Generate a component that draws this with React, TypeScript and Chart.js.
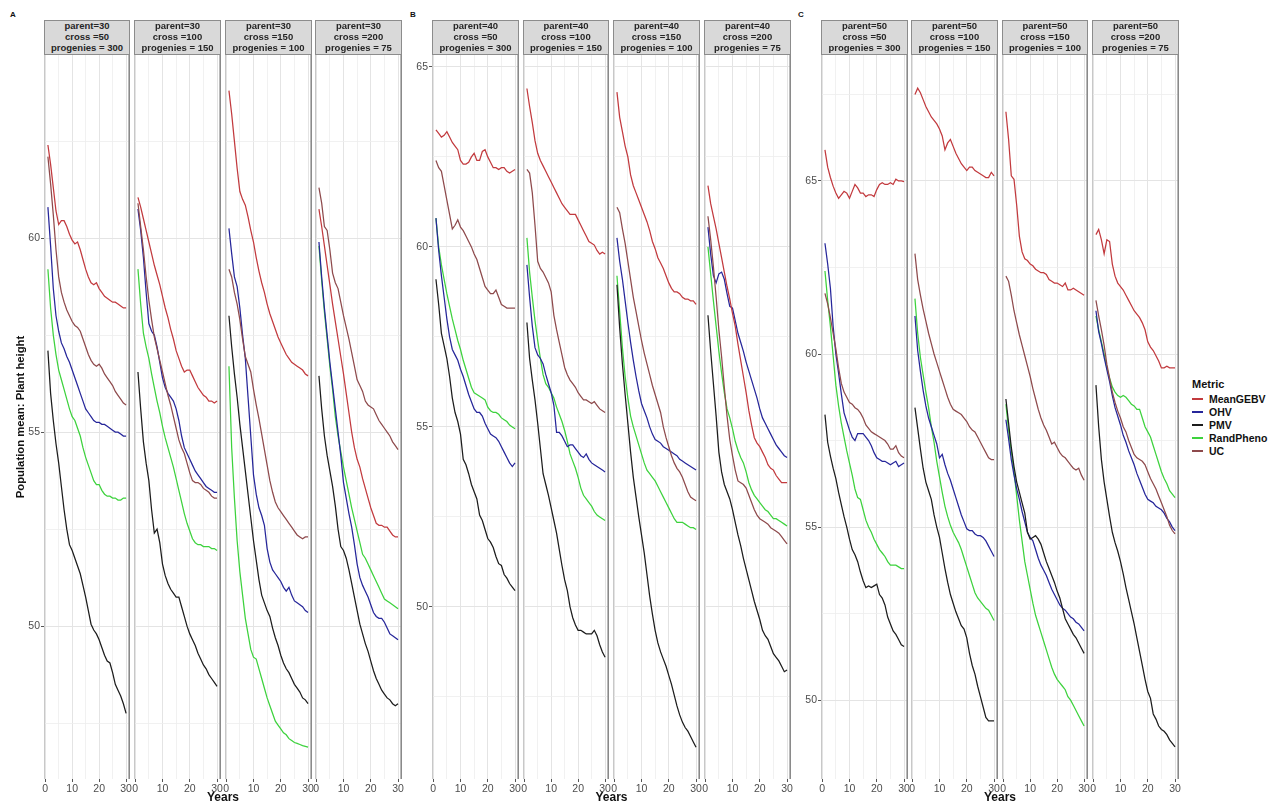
import React, { useEffect, useRef } from "react";
import { Chart, registerables } from "chart.js";

Chart.register(...registerables);

// ---------------- data ----------------
const years = [1, 2, 3, 4, 5, 6, 7, 8, 9, 10, 11, 12, 13, 14, 15, 16, 17, 18, 19, 20, 21, 22, 23, 24, 25, 26, 27, 28, 29, 30];
const metrics = ["MeanGEBV", "OHV", "PMV", "RandPheno", "UC"];
const groupLetters = ["A", "B", "C"];
const parentLevels = [30, 40, 50];
const crossLevels = [50, 100, 150, 200];
const progenyLevels = [300, 150, 100, 75];
const xTickValues = [0, 5, 10, 15, 20, 25, 30];
const yTickValues = [47.5, 50, 52.5, 55, 57.5, 60, 62.5, 65, 67.5];

// Group A (parent = 30)
const A1_MeanGEBV = [62.4, 61.9, 61.3, 60.7, 60.35, 60.45, 60.45, 60.3, 60.1, 59.95, 59.85, 59.9, 59.7, 59.45, 59.2, 59.0, 58.85, 58.8, 58.85, 58.7, 58.6, 58.5, 58.45, 58.4, 58.35, 58.35, 58.3, 58.25, 58.2, 58.2];
const A1_OHV = [60.8, 59.8, 58.7, 58.0, 57.6, 57.3, 57.15, 56.95, 56.8, 56.6, 56.4, 56.2, 56.0, 55.8, 55.6, 55.5, 55.4, 55.3, 55.25, 55.25, 55.2, 55.2, 55.15, 55.1, 55.05, 55.0, 55.0, 54.95, 54.9, 54.9];
const A1_PMV = [57.1, 56.0, 55.3, 54.7, 54.2, 53.6, 53.0, 52.5, 52.1, 51.95, 51.75, 51.55, 51.35, 51.05, 50.75, 50.4, 50.05, 49.9, 49.8, 49.65, 49.45, 49.25, 49.1, 49.05, 48.8, 48.5, 48.35, 48.2, 48.0, 47.75];
const A1_RandPheno = [59.2, 58.2, 57.5, 57.0, 56.6, 56.35, 56.1, 55.85, 55.6, 55.4, 55.3, 55.1, 54.9, 54.6, 54.35, 54.15, 53.95, 53.75, 53.65, 53.65, 53.5, 53.4, 53.35, 53.35, 53.3, 53.3, 53.25, 53.25, 53.3, 53.3];
const A1_UC = [62.1, 61.4, 60.6, 59.7, 59.0, 58.6, 58.35, 58.15, 58.0, 57.85, 57.75, 57.7, 57.6, 57.4, 57.2, 57.0, 56.85, 56.75, 56.7, 56.75, 56.65, 56.5, 56.4, 56.3, 56.2, 56.05, 55.95, 55.85, 55.75, 55.7];

const A2_MeanGEBV = [61.05, 60.8, 60.5, 60.2, 59.9, 59.6, 59.3, 59.05, 58.8, 58.5, 58.2, 57.95, 57.65, 57.4, 57.1, 56.9, 56.7, 56.55, 56.6, 56.6, 56.45, 56.3, 56.15, 56.05, 55.95, 55.9, 55.8, 55.8, 55.75, 55.8];
const A2_OHV = [60.75, 60.2, 59.5, 58.6, 57.8, 57.6, 57.5, 57.2, 56.8, 56.4, 56.15, 56.0, 55.9, 55.8, 55.6, 55.3, 54.9, 54.6, 54.45, 54.3, 54.15, 54.0, 53.9, 53.8, 53.7, 53.6, 53.55, 53.5, 53.45, 53.45];
const A2_PMV = [56.55, 55.6, 54.75, 54.2, 53.75, 53.0, 52.4, 52.5, 52.15, 51.6, 51.3, 51.1, 50.95, 50.85, 50.75, 50.75, 50.5, 50.25, 50.0, 49.8, 49.65, 49.5, 49.3, 49.15, 49.0, 48.9, 48.75, 48.65, 48.55, 48.45];
const A2_RandPheno = [59.2, 58.3, 57.55, 57.2, 56.9, 56.5, 56.15, 55.8, 55.5, 55.15, 54.85, 54.6, 54.35, 54.1, 53.8, 53.5, 53.2, 52.9, 52.65, 52.45, 52.25, 52.15, 52.1, 52.1, 52.05, 52.05, 52.05, 52.0, 52.0, 51.95];
const A2_UC = [60.9, 60.3, 59.7, 59.0, 58.4, 57.9, 57.45, 57.15, 56.85, 56.55, 56.25, 55.95, 55.7, 55.4, 55.1, 54.8, 54.6, 54.45, 54.2, 53.95, 53.75, 53.7, 53.7, 53.65, 53.55, 53.5, 53.45, 53.35, 53.3, 53.3];

const A3_MeanGEBV = [63.8, 63.2, 62.5, 61.8, 61.2, 61.0, 60.85, 60.55, 60.2, 59.9, 59.5, 59.15, 58.85, 58.6, 58.3, 58.05, 57.85, 57.65, 57.45, 57.3, 57.15, 57.0, 56.9, 56.8, 56.75, 56.7, 56.65, 56.6, 56.5, 56.45];
const A3_OHV = [60.25, 59.6, 59.0, 58.75, 58.2, 57.5, 56.9, 55.9, 54.9, 53.9, 53.4, 53.05, 52.85, 52.6, 52.0, 51.65, 51.45, 51.35, 51.25, 51.15, 51.0, 50.9, 51.0, 50.8, 50.65, 50.6, 50.55, 50.5, 50.4, 50.35];
const A3_PMV = [58.0, 57.2, 56.5, 55.9, 55.2, 54.6, 54.0, 53.4, 52.8, 52.2, 51.7, 51.2, 50.8, 50.6, 50.4, 50.25, 49.95, 49.7, 49.5, 49.25, 49.05, 48.9, 48.8, 48.65, 48.5, 48.4, 48.3, 48.15, 48.1, 48.0];
const A3_RandPheno = [56.7, 54.6, 53.3, 52.2, 51.4, 50.8, 50.2, 49.8, 49.4, 49.2, 49.15, 48.9, 48.65, 48.4, 48.15, 47.95, 47.75, 47.55, 47.45, 47.35, 47.25, 47.2, 47.1, 47.05, 47.0, 46.98, 46.95, 46.92, 46.9, 46.88];
const A3_UC = [59.2, 59.0, 58.6, 58.3, 57.9, 57.4, 56.95, 56.75, 56.55, 56.1, 55.7, 55.35, 54.95, 54.55, 54.15, 53.75, 53.45, 53.2, 53.05, 52.95, 52.85, 52.75, 52.65, 52.55, 52.45, 52.35, 52.3, 52.25, 52.3, 52.3];

const A4_MeanGEBV = [60.75, 60.3, 59.8, 59.3, 58.8, 58.3, 57.85, 57.4, 56.95, 56.5, 56.0, 55.5, 55.0, 54.6, 54.3, 54.1, 53.8, 53.55, 53.3, 53.05, 52.85, 52.65, 52.6, 52.6, 52.55, 52.55, 52.45, 52.35, 52.3, 52.3];
const A4_OHV = [59.9, 59.0, 58.2, 57.5, 56.8, 56.2, 55.6, 55.0, 54.4, 53.7, 53.3, 52.9, 52.55, 52.1, 51.6, 51.25, 51.05, 50.9, 50.75, 50.55, 50.35, 50.25, 50.2, 50.2, 50.1, 49.95, 49.8, 49.75, 49.7, 49.65];
const A4_PMV = [56.45, 55.6, 54.9, 54.4, 54.0, 53.6, 53.1, 52.5, 52.05, 51.95, 51.75, 51.45, 51.1, 50.75, 50.4, 50.05, 49.8, 49.55, 49.35, 49.1, 48.85, 48.65, 48.5, 48.35, 48.25, 48.15, 48.1, 48.0, 47.95, 48.0];
const A4_RandPheno = [59.8, 58.9, 58.1, 57.4, 56.7, 56.1, 55.4, 54.9, 54.5, 54.1, 53.75, 53.4, 53.05, 52.75, 52.45, 52.15, 51.85, 51.75, 51.6, 51.45, 51.3, 51.15, 51.0, 50.85, 50.7, 50.65, 50.6, 50.55, 50.5, 50.45];
const A4_UC = [61.3, 60.9, 60.3, 60.2, 59.7, 59.1, 58.85, 58.7, 58.35, 58.0, 57.7, 57.4, 57.05, 56.7, 56.35, 56.2, 56.05, 55.8, 55.7, 55.65, 55.6, 55.45, 55.3, 55.2, 55.1, 55.0, 54.9, 54.75, 54.65, 54.55];

// Group B (parent = 40)
const B1_MeanGEBV = [63.25, 63.15, 63.05, 63.1, 63.2, 63.05, 62.9, 62.8, 62.7, 62.4, 62.3, 62.3, 62.35, 62.5, 62.6, 62.4, 62.4, 62.65, 62.7, 62.5, 62.35, 62.2, 62.2, 62.15, 62.2, 62.2, 62.1, 62.05, 62.1, 62.15];
const B1_OHV = [60.8, 59.9, 59.2, 58.6, 58.0, 57.5, 57.15, 57.0, 56.85, 56.6, 56.4, 56.15, 55.9, 55.7, 55.5, 55.4, 55.4, 55.3, 55.1, 54.95, 54.8, 54.75, 54.7, 54.6, 54.45, 54.3, 54.15, 54.0, 53.9, 54.0];
const B1_PMV = [59.1, 58.4, 57.6, 57.25, 56.9, 56.4, 55.8, 55.4, 55.15, 54.8, 54.1, 53.95, 53.7, 53.4, 53.2, 53.0, 52.55, 52.4, 52.15, 51.9, 51.8, 51.65, 51.4, 51.2, 51.15, 50.9, 50.8, 50.65, 50.55, 50.45];
const B1_RandPheno = [60.8, 60.0, 59.5, 59.1, 58.7, 58.35, 58.0, 57.7, 57.4, 57.15, 56.85, 56.6, 56.35, 56.1, 55.95, 55.9, 55.85, 55.8, 55.75, 55.55, 55.45, 55.4, 55.4, 55.35, 55.25, 55.2, 55.15, 55.05, 55.0, 54.95];
const B1_UC = [62.4, 62.2, 62.1, 61.7, 61.3, 60.9, 60.5, 60.6, 60.75, 60.55, 60.45, 60.3, 60.15, 60.0, 59.8, 59.65, 59.4, 59.15, 58.9, 58.8, 58.7, 58.7, 58.8, 58.6, 58.4, 58.35, 58.3, 58.3, 58.3, 58.3];

const B2_MeanGEBV = [64.4, 63.9, 63.45, 62.95, 62.6, 62.4, 62.25, 62.1, 61.95, 61.8, 61.65, 61.5, 61.35, 61.2, 61.1, 61.0, 60.9, 60.9, 60.9, 60.75, 60.6, 60.45, 60.3, 60.15, 60.1, 60.05, 59.9, 59.8, 59.85, 59.8];
const B2_OHV = [59.5, 58.6, 57.8, 57.2, 57.0, 56.9, 56.75, 56.45, 56.2, 55.95, 55.6, 54.85, 54.85, 54.75, 54.6, 54.45, 54.5, 54.5, 54.4, 54.3, 54.2, 54.15, 54.25, 54.1, 54.0, 53.95, 53.9, 53.85, 53.8, 53.75];
const B2_PMV = [57.9, 56.9, 56.3, 55.75, 55.1, 54.4, 53.7, 53.4, 53.1, 52.75, 52.4, 52.05, 51.6, 51.15, 50.75, 50.45, 50.0, 49.7, 49.5, 49.35, 49.35, 49.3, 49.25, 49.25, 49.25, 49.35, 49.2, 48.95, 48.75, 48.6];
const B2_RandPheno = [60.25, 59.3, 58.6, 57.95, 57.4, 56.9, 56.45, 56.2, 56.1, 55.95, 55.8, 55.55, 55.35, 55.15, 54.9, 54.6, 54.25, 54.05, 53.85, 53.6, 53.3, 53.1, 53.0, 52.9, 52.8, 52.65, 52.55, 52.5, 52.45, 52.4];
const B2_UC = [62.15, 62.05, 61.5, 60.6, 59.6, 59.4, 59.3, 59.15, 59.0, 58.75, 58.1, 57.7, 57.35, 57.0, 56.65, 56.45, 56.3, 56.2, 56.1, 55.95, 55.85, 55.75, 55.75, 55.7, 55.65, 55.7, 55.6, 55.5, 55.45, 55.4];

const B3_MeanGEBV = [64.3, 63.6, 63.2, 62.8, 62.5, 62.0, 61.7, 61.5, 61.3, 61.1, 60.9, 60.7, 60.45, 60.15, 59.95, 59.7, 59.55, 59.4, 59.2, 59.0, 58.85, 58.75, 58.75, 58.7, 58.6, 58.55, 58.55, 58.5, 58.5, 58.4];
const B3_OHV = [60.25, 59.6, 59.1, 58.5, 57.9, 57.35, 56.85, 56.4, 56.0, 55.65, 55.45, 55.25, 55.0, 54.8, 54.65, 54.6, 54.55, 54.45, 54.4, 54.35, 54.3, 54.25, 54.2, 54.1, 54.05, 54.0, 53.95, 53.9, 53.85, 53.8];
const B3_PMV = [58.95, 57.75, 56.75, 55.9, 55.1, 54.3, 53.6, 53.05, 52.5, 52.0, 51.5, 50.9, 50.3, 49.8, 49.35, 49.0, 48.75, 48.55, 48.35, 48.1, 47.85, 47.55, 47.25, 47.0, 46.8, 46.65, 46.55, 46.4, 46.25, 46.1];
const B3_RandPheno = [59.2, 58.2, 57.2, 56.4, 55.8, 55.3, 55.0, 54.75, 54.5, 54.25, 54.0, 53.8, 53.7, 53.6, 53.5, 53.35, 53.2, 53.05, 52.9, 52.75, 52.6, 52.45, 52.35, 52.35, 52.35, 52.3, 52.25, 52.2, 52.2, 52.15];
const B3_UC = [61.1, 60.95, 60.5, 60.1, 59.6, 59.1, 58.6, 58.2, 57.8, 57.4, 57.05, 56.75, 56.45, 56.15, 55.9, 55.65, 55.4, 55.0, 54.7, 54.45, 54.2, 54.0, 53.85, 53.75, 53.6, 53.4, 53.2, 53.05, 53.0, 52.95];

const B4_MeanGEBV = [61.7, 61.2, 60.85, 60.5, 60.1, 59.7, 59.3, 58.9, 58.55, 58.15, 57.8, 57.3, 56.85, 56.4, 55.95, 55.45, 55.05, 54.7, 54.55, 54.45, 54.3, 54.15, 53.95, 53.85, 53.8, 53.65, 53.55, 53.45, 53.45, 53.45];
const B4_OHV = [60.55, 59.8, 59.2, 59.0, 59.25, 59.3, 59.1, 58.7, 58.35, 58.3, 57.95, 57.6, 57.35, 57.1, 56.8, 56.55, 56.3, 56.05, 55.8, 55.5, 55.25, 55.1, 54.95, 54.8, 54.65, 54.5, 54.4, 54.3, 54.2, 54.15];
const B4_PMV = [58.1, 57.1, 56.2, 55.3, 54.3, 53.75, 53.4, 53.2, 53.0, 52.7, 52.35, 52.0, 51.7, 51.35, 51.05, 50.75, 50.45, 50.15, 49.9, 49.65, 49.35, 49.2, 49.1, 48.9, 48.7, 48.6, 48.5, 48.35, 48.2, 48.25];
const B4_RandPheno = [60.0, 59.25, 58.5, 57.8, 57.1, 56.5, 55.95, 55.5, 55.25, 54.95, 54.6, 54.35, 54.15, 54.0, 53.75, 53.45, 53.25, 53.1, 53.0, 52.9, 52.8, 52.7, 52.65, 52.55, 52.45, 52.45, 52.4, 52.35, 52.3, 52.25];
const B4_UC = [60.85, 60.2, 59.45, 58.6, 57.7, 56.95, 56.1, 55.3, 54.65, 54.2, 53.8, 53.5, 53.45, 53.4, 53.3, 53.1, 52.9, 52.7, 52.55, 52.45, 52.4, 52.35, 52.3, 52.2, 52.15, 52.1, 52.05, 51.95, 51.85, 51.75];

// Group C (parent = 50)
const C1_MeanGEBV = [65.9, 65.4, 65.1, 64.85, 64.65, 64.5, 64.6, 64.7, 64.65, 64.5, 64.7, 64.9, 64.8, 64.65, 64.65, 64.55, 64.6, 64.6, 64.55, 64.75, 64.9, 64.95, 64.9, 64.9, 64.95, 64.9, 65.05, 65.0, 65.0, 64.98];
const C1_OHV = [63.2, 62.6, 61.9, 60.8, 60.0, 59.45, 58.85, 58.3, 58.05, 57.8, 57.6, 57.5, 57.7, 57.7, 57.7, 57.6, 57.5, 57.35, 57.15, 57.0, 56.95, 56.9, 56.9, 56.85, 56.8, 56.85, 56.9, 56.75, 56.8, 56.85];
const C1_PMV = [58.25, 57.45, 57.05, 56.7, 56.4, 56.0, 55.65, 55.3, 55.0, 54.65, 54.35, 54.2, 54.0, 53.7, 53.45, 53.25, 53.3, 53.25, 53.3, 53.35, 53.05, 52.95, 52.75, 52.4, 52.2, 52.0, 51.9, 51.75, 51.6, 51.55];
const C1_RandPheno = [62.4, 61.55, 60.8, 59.95, 59.1, 58.5, 58.0, 57.6, 57.2, 56.85, 56.5, 56.1, 55.85, 55.8, 55.5, 55.2, 55.0, 54.85, 54.65, 54.5, 54.35, 54.25, 54.15, 54.0, 53.9, 53.9, 53.9, 53.85, 53.8, 53.8];
const C1_UC = [61.75, 61.45, 61.05, 60.6, 60.15, 59.6, 59.15, 58.9, 58.75, 58.6, 58.55, 58.45, 58.4, 58.3, 58.15, 57.95, 57.85, 57.75, 57.7, 57.65, 57.6, 57.55, 57.5, 57.4, 57.25, 57.25, 57.35, 57.15, 57.05, 57.0];

const C2_MeanGEBV = [67.5, 67.68, 67.55, 67.35, 67.15, 67.0, 66.85, 66.75, 66.65, 66.5, 66.3, 65.9, 66.1, 66.2, 66.0, 65.8, 65.65, 65.5, 65.4, 65.3, 65.4, 65.4, 65.3, 65.25, 65.2, 65.15, 65.1, 65.1, 65.25, 65.15];
const C2_OHV = [61.1, 60.1, 59.5, 58.95, 58.5, 58.15, 57.9, 57.65, 57.4, 57.0, 57.1, 56.8, 56.55, 56.35, 56.1, 55.85, 55.6, 55.35, 55.15, 54.95, 54.9, 54.9, 54.8, 54.75, 54.75, 54.7, 54.6, 54.45, 54.3, 54.15];
const C2_PMV = [58.45, 57.85, 57.25, 56.7, 56.3, 56.05, 55.8, 55.35, 55.0, 54.7, 54.25, 53.8, 53.4, 53.05, 52.8, 52.55, 52.35, 52.15, 52.05, 51.8, 51.35, 51.0, 50.75, 50.4, 50.1, 49.8, 49.5, 49.4, 49.4, 49.4];
const C2_RandPheno = [61.6, 60.6, 59.9, 59.4, 58.9, 58.45, 57.9, 57.45, 56.9, 56.45, 56.0, 55.6, 55.3, 55.05, 54.85, 54.7, 54.55, 54.35, 54.1, 53.85, 53.6, 53.35, 53.1, 52.95, 52.85, 52.75, 52.65, 52.6, 52.45, 52.3];
const C2_UC = [62.9, 62.15, 61.7, 61.3, 60.95, 60.6, 60.3, 60.0, 59.75, 59.5, 59.25, 59.0, 58.75, 58.55, 58.4, 58.35, 58.3, 58.25, 58.15, 58.05, 57.9, 57.8, 57.75, 57.6, 57.45, 57.3, 57.15, 57.0, 56.95, 56.95];

const C3_MeanGEBV = [67.0, 66.2, 65.15, 65.05, 64.3, 63.4, 62.95, 62.75, 62.7, 62.6, 62.55, 62.45, 62.4, 62.35, 62.35, 62.3, 62.15, 62.1, 62.05, 62.05, 62.0, 61.95, 62.05, 61.85, 61.85, 61.9, 61.85, 61.8, 61.75, 61.7];
const C3_OHV = [58.1, 57.55, 56.95, 56.5, 56.1, 55.8, 55.45, 55.15, 54.85, 54.7, 54.6, 54.35, 54.1, 53.9, 53.75, 53.6, 53.4, 53.2, 53.05, 52.9, 52.75, 52.65, 52.6, 52.5, 52.4, 52.35, 52.25, 52.2, 52.1, 52.0];
const C3_PMV = [58.7, 58.0, 57.3, 56.75, 56.3, 56.0, 55.7, 55.4, 54.85, 54.65, 54.7, 54.75, 54.65, 54.5, 54.25, 54.0, 53.8, 53.6, 53.4, 53.15, 52.95, 52.65, 52.35, 52.2, 52.05, 51.9, 51.8, 51.65, 51.5, 51.35];
const C3_RandPheno = [58.55, 57.8, 57.2, 56.6, 55.9, 55.2, 54.6, 54.0, 53.6, 53.2, 52.8, 52.45, 52.2, 51.95, 51.7, 51.45, 51.2, 50.95, 50.75, 50.6, 50.5, 50.4, 50.3, 50.1, 50.0, 49.85, 49.7, 49.55, 49.4, 49.25];
const C3_UC = [62.25, 62.1, 61.7, 61.25, 60.9, 60.55, 60.25, 59.95, 59.65, 59.35, 59.0, 58.7, 58.4, 58.15, 57.95, 57.8, 57.6, 57.4, 57.45, 57.3, 57.15, 57.05, 57.0, 56.9, 56.8, 56.7, 56.65, 56.7, 56.5, 56.35];

const C4_MeanGEBV = [63.45, 63.6, 63.3, 62.9, 63.3, 63.25, 62.6, 62.25, 62.05, 61.95, 61.85, 61.7, 61.55, 61.4, 61.25, 61.15, 61.05, 60.9, 60.7, 60.35, 60.2, 60.1, 59.95, 59.8, 59.6, 59.6, 59.65, 59.6, 59.6, 59.6];
const C4_OHV = [61.25, 60.65, 60.3, 59.9, 59.55, 59.2, 58.8, 58.45, 58.2, 57.95, 57.65, 57.45, 57.2, 57.0, 56.8, 56.55, 56.35, 56.15, 55.95, 55.8, 55.75, 55.7, 55.6, 55.55, 55.5, 55.4, 55.25, 55.15, 55.0, 54.9];
const C4_PMV = [59.1, 57.9, 56.95, 56.3, 55.8, 55.3, 54.85, 54.55, 54.3, 54.0, 53.65, 53.25, 52.9, 52.55, 52.2, 51.8, 51.4, 51.0, 50.6, 50.25, 50.05, 49.6, 49.45, 49.25, 49.15, 49.1, 49.0, 48.85, 48.75, 48.65];
const C4_RandPheno = [61.1, 60.7, 60.35, 60.0, 59.6, 59.3, 59.05, 58.9, 58.8, 58.75, 58.8, 58.75, 58.65, 58.55, 58.5, 58.4, 58.4, 58.15, 57.9, 57.75, 57.6, 57.35, 57.1, 56.85, 56.6, 56.4, 56.25, 56.05, 55.95, 55.85];
const C4_UC = [61.55, 61.1, 60.7, 60.25, 59.7, 59.3, 58.9, 58.6, 58.35, 58.15, 57.9, 57.75, 57.5, 57.3, 57.1, 57.0, 56.95, 56.9, 56.8, 56.6, 56.4, 56.25, 56.1, 55.9, 55.7, 55.5, 55.3, 55.05, 54.9, 54.8];

// series per facet, ordered as metrics
const facetSeries: number[][][][] = [
  [
    [A1_MeanGEBV, A1_OHV, A1_PMV, A1_RandPheno, A1_UC],
    [A2_MeanGEBV, A2_OHV, A2_PMV, A2_RandPheno, A2_UC],
    [A3_MeanGEBV, A3_OHV, A3_PMV, A3_RandPheno, A3_UC],
    [A4_MeanGEBV, A4_OHV, A4_PMV, A4_RandPheno, A4_UC],
  ],
  [
    [B1_MeanGEBV, B1_OHV, B1_PMV, B1_RandPheno, B1_UC],
    [B2_MeanGEBV, B2_OHV, B2_PMV, B2_RandPheno, B2_UC],
    [B3_MeanGEBV, B3_OHV, B3_PMV, B3_RandPheno, B3_UC],
    [B4_MeanGEBV, B4_OHV, B4_PMV, B4_RandPheno, B4_UC],
  ],
  [
    [C1_MeanGEBV, C1_OHV, C1_PMV, C1_RandPheno, C1_UC],
    [C2_MeanGEBV, C2_OHV, C2_PMV, C2_RandPheno, C2_UC],
    [C3_MeanGEBV, C3_OHV, C3_PMV, C3_RandPheno, C3_UC],
    [C4_MeanGEBV, C4_OHV, C4_PMV, C4_RandPheno, C4_UC],
  ],
];

// ---------------- layout & style ----------------
const FONT = "'Liberation Sans', Arial, Helvetica, sans-serif";
const metricColors = ["#c23a3e", "#26269a", "#1c1c1c", "#3dd23d", "#8e4a4c"];
const drawOrder = [1, 4, 3, 5, 0]; // ggplot draws later levels on top
const panelLefts = [[44, 134, 225, 315], [432, 523, 613, 704], [821, 911, 1002, 1092]];
const panelRights = [[130, 221, 312, 402], [519, 609, 700, 791], [908, 998, 1088, 1179]];
const yDomains = [[46.06, 64.72], [45.22, 65.33], [47.72, 68.64]];
const yAxisWidths = [44, 30, 30];
const xDomain = [-0.45, 31.45];
const PANEL_TOP = 55;
const PANEL_BOTTOM = 779;
const STRIP_TOP = 20;
const X_AXIS_H = 16;
const SIDE = 8;
const TOP_PAD = 10;

const panelBorderPlugin = {
  id: "panelBorder",
  afterDatasetsDraw(chart: any) {
    const { ctx, chartArea: a } = chart;
    ctx.save();
    ctx.strokeStyle = "#c8c8c8";
    ctx.lineWidth = 1;
    ctx.beginPath();
    ctx.moveTo(a.left + 0.5, a.top);
    ctx.lineTo(a.left + 0.5, a.bottom);
    ctx.stroke();
    ctx.strokeStyle = "#8a8a8a";
    ctx.lineWidth = 1.6;
    ctx.beginPath();
    ctx.moveTo(a.right - 0.8, a.top);
    ctx.lineTo(a.right - 0.8, a.bottom);
    ctx.stroke();
    ctx.restore();
  },
};

function Facet({ g, f }: { g: number; f: number }) {
  const ref = useRef<HTMLCanvasElement>(null);
  const L = panelLefts[g][f];
  const R = panelRights[g][f];
  const showY = f === 0;
  const yW = showY ? yAxisWidths[g] : 0;
  const padL = showY ? 0 : SIDE;
  const canvasLeft = L - yW - padL;
  const canvasTop = PANEL_TOP - TOP_PAD;
  const canvasW = R - L + yW + padL + SIDE;
  const canvasH = PANEL_BOTTOM - PANEL_TOP + X_AXIS_H + TOP_PAD;

  useEffect(() => {
    if (!ref.current) return;
    const [yMin, yMax] = yDomains[g];
    const series = facetSeries[g][f];
    const chart = new Chart(ref.current, {
      type: "line",
      data: {
        datasets: metrics.map((m, k) => ({
          label: m,
          data: years.map((yr, i) => ({ x: yr, y: series[k][i] })),
          borderColor: metricColors[k],
          backgroundColor: metricColors[k],
          borderWidth: 1.25,
          pointRadius: 0,
          pointHoverRadius: 0,
          tension: 0,
          fill: false,
          order: drawOrder[k],
        })),
      },
      options: {
        animation: false,
        responsive: false,
        maintainAspectRatio: false,
        devicePixelRatio: 1,
        events: [],
        layout: { padding: { left: padL, right: SIDE, top: TOP_PAD, bottom: 0 } },
        plugins: {
          legend: { display: false },
          tooltip: { enabled: false },
          title: { display: false },
        },
        scales: {
          x: {
            type: "linear",
            min: xDomain[0],
            max: xDomain[1],
            afterBuildTicks: (s: any) => {
              s.ticks = xTickValues.map((v) => ({ value: v }));
            },
            afterFit: (s: any) => {
              s.height = X_AXIS_H;
            },
            ticks: {
              autoSkip: false,
              maxRotation: 0,
              minRotation: 0,
              padding: 1,
              color: "#4d4d4d",
              font: { family: FONT, size: 10.5 },
              callback: (v: any) => (Number(v) % 10 === 0 ? String(v) : ""),
            },
            grid: {
              drawTicks: true,
              tickLength: 3,
              color: (c: any) => (c.tick && c.tick.value % 10 === 0 ? "#e4e4e4" : "#eeeeee"),
              lineWidth: (c: any) => (c.tick && c.tick.value % 10 === 0 ? 1 : 0.8),
              tickColor: (c: any) => (c.tick && c.tick.value % 10 === 0 ? "#555555" : "rgba(0,0,0,0)"),
              tickWidth: 1,
            },
            border: { display: false },
          },
          y: {
            type: "linear",
            min: yMin,
            max: yMax,
            afterBuildTicks: (s: any) => {
              s.ticks = yTickValues.filter((v) => v >= yMin && v <= yMax).map((v) => ({ value: v }));
            },
            afterFit: (s: any) => {
              s.width = yW;
            },
            ticks: {
              display: showY,
              autoSkip: false,
              padding: 1,
              color: "#4d4d4d",
              font: { family: FONT, size: 10.5 },
              callback: (v: any) => (Number(v) % 5 === 0 ? String(v) : ""),
            },
            grid: {
              drawTicks: showY,
              tickLength: 3,
              color: (c: any) => (c.tick && c.tick.value % 5 === 0 ? "#e4e4e4" : "#eeeeee"),
              lineWidth: (c: any) => (c.tick && c.tick.value % 5 === 0 ? 1 : 0.8),
              tickColor: (c: any) => (c.tick && c.tick.value % 5 === 0 ? "#555555" : "rgba(0,0,0,0)"),
              tickWidth: 1,
            },
            border: { display: false },
          },
        },
      },
      plugins: [panelBorderPlugin],
    } as any);
    return () => chart.destroy();
  }, [g, f]);

  return (
    <canvas
      ref={ref}
      width={canvasW}
      height={canvasH}
      style={{ position: "absolute", left: canvasLeft, top: canvasTop, width: canvasW, height: canvasH }}
    />
  );
}

function Strip({ g, f }: { g: number; f: number }) {
  const L = panelLefts[g][f];
  const R = panelRights[g][f];
  return (
    <div
      style={{
        position: "absolute",
        left: L,
        top: STRIP_TOP,
        width: R - L,
        height: PANEL_TOP - STRIP_TOP,
        boxSizing: "border-box",
        background: "#d9d9d9",
        border: "1px solid #8c8c8c",
        display: "flex",
        flexDirection: "column",
        justifyContent: "center",
        alignItems: "center",
        fontFamily: FONT,
        fontWeight: "bold",
        fontSize: 9.5,
        lineHeight: "10.7px",
        color: "#262626",
        whiteSpace: "pre",
        textAlign: "center",
      }}
    >
      <div>{`parent=${parentLevels[g]}`}</div>
      <div>{`cross =${crossLevels[f]}`}</div>
      <div>{`progenies = ${progenyLevels[f]}`}</div>
    </div>
  );
}

const letterX = [10, 410, 798];
const legendItemY = [399, 412, 425, 438, 451];

export default function App() {
  return (
    <div
      style={{
        position: "absolute",
        left: 0,
        top: 0,
        width: 1277,
        height: 803,
        background: "#ffffff",
        overflow: "hidden",
        fontFamily: FONT,
      }}
    >
      {groupLetters.map((letter, g) => (
        <div
          key={"l" + g}
          style={{ position: "absolute", left: letterX[g], top: 10, fontSize: 8, fontWeight: "bold", lineHeight: "10px", color: "#111" }}
        >
          {letter}
        </div>
      ))}
      {[0, 1, 2].map((g) =>
        [0, 1, 2, 3].map((f) => <Facet key={`c${g}${f}`} g={g} f={f} />)
      )}
      {[0, 1, 2].map((g) =>
        [0, 1, 2, 3].map((f) => <Strip key={`s${g}${f}`} g={g} f={f} />)
      )}
      {[0, 1, 2].map((g) => {
        const cx = (panelLefts[g][0] + panelRights[g][3]) / 2;
        return (
          <div
            key={"yrs" + g}
            style={{
              position: "absolute",
              left: cx - 40,
              width: 80,
              top: 790,
              textAlign: "center",
              fontSize: 12,
              fontWeight: "bold",
              lineHeight: "14px",
              color: "#111",
            }}
          >
            Years
          </div>
        );
      })}
      <div
        style={{
          position: "absolute",
          left: 20 - 110,
          top: 417 - 8,
          width: 220,
          height: 16,
          lineHeight: "16px",
          textAlign: "center",
          fontSize: 11.3,
          fontWeight: "bold",
          color: "#111",
          transform: "rotate(-90deg)",
          transformOrigin: "50% 50%",
          whiteSpace: "nowrap",
        }}
      >
        Population mean: Plant height
      </div>
      <div
        style={{ position: "absolute", left: 1192, top: 377, fontSize: 11, fontWeight: "bold", lineHeight: "14px", color: "#111" }}
      >
        Metric
      </div>
      {metrics.map((m, k) => (
        <React.Fragment key={"lg" + k}>
          <div
            style={{
              position: "absolute",
              left: 1192,
              top: legendItemY[k] - 0.75,
              width: 11,
              height: 1.5,
              background: metricColors[k],
            }}
          />
          <div
            style={{
              position: "absolute",
              left: 1209,
              top: legendItemY[k] - 7,
              fontSize: 10.5,
              fontWeight: "bold",
              lineHeight: "14px",
              color: "#111",
              whiteSpace: "nowrap",
            }}
          >
            {m}
          </div>
        </React.Fragment>
      ))}
    </div>
  );
}
